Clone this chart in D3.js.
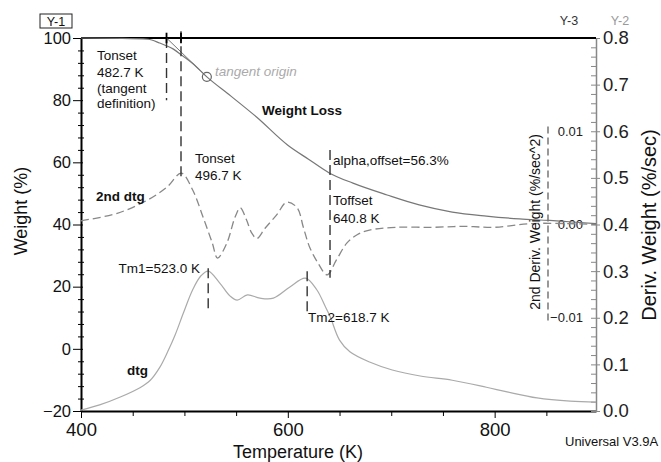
<!DOCTYPE html>
<html>
<head>
<meta charset="utf-8">
<script src="https://cdn.jsdelivr.net/npm/d3@7"></script>
<style>
  body { margin: 0; background: #fff; }
  svg { display: block; font-family: "Liberation Sans", Arial, sans-serif; }
</style>
</head>
<body>
<svg id="tga" width="661" height="462"></svg>
<script>
// Weight loss (Y-1, %)
const weightTemp = [400, 440, 465, 476, 489, 498.5, 508, 521.7, 545, 570, 600, 620, 640, 663, 696, 727, 759, 792, 824, 853, 875, 898];
const weightPct  = [100, 99.9, 99.6, 98.4, 96.5, 94.2, 91.8, 87.5, 81.3, 74.5, 65.5, 61.0, 56.6, 53.3, 49.5, 46.3, 44.0, 42.7, 41.8, 41.3, 40.8, 40.3];

// dtg (Y-2, %/sec)
const dtgTemp = [400, 418, 438, 457, 467, 476, 484, 491, 499, 508, 516, 523, 534, 544, 551, 561, 573, 586, 602, 617, 628, 636, 641, 650, 660, 679, 701, 728, 759, 792, 812, 841, 873, 898];
const dtgVal  = [0.002, 0.013, 0.030, 0.050, 0.066, 0.093, 0.128, 0.163, 0.210, 0.260, 0.290, 0.300, 0.275, 0.247, 0.238, 0.249, 0.242, 0.242, 0.266, 0.285, 0.260, 0.225, 0.202, 0.152, 0.127, 0.105, 0.088, 0.075, 0.066, 0.051, 0.041, 0.028, 0.021, 0.019];

// 2nd dtg (Y-3, %/sec^2)
const dtg2Temp = [400, 435, 464, 483, 497, 508, 518, 527, 532, 541, 549, 554, 560, 565, 570, 578, 589, 599, 609, 615, 621, 629, 638, 647, 657, 667, 679, 705, 740, 770, 800, 835, 870, 898];
const dtg2Val  = [0.0004, 0.0012, 0.0026, 0.0040, 0.0055, 0.0037, 0.0008, -0.0020, -0.0036, -0.0020, 0.0008, 0.0018, 0.0005, -0.0009, -0.0015, -0.0004, 0.0010, 0.0024, 0.0018, -0.0003, -0.0024, -0.0041, -0.0054, -0.0038, -0.0020, -0.0011, -0.0006, -0.0003, -0.0003, -0.0002, -0.0003, 0.0001, 0.0001, 0.0000];

// tick labels
const tempTicks   = [400, 600, 800];
const weightTicks = [-20, 0, 20, 40, 60, 80, 100];
const derivTicks  = [0, 0.1, 0.2, 0.3, 0.4, 0.5, 0.6, 0.7, 0.8];
const deriv2Ticks = [-0.01, 0, 0.01];

// annotated temperatures
const onsetTangent = 482.7, onsetDtg = 496.7, offsetTemp = 640.8, tm1 = 523.0, tm2 = 618.7;
const tangentOrigin = [521.7, 87.5];

let svg = d3.select("#tga");

// scales
let x  = d3.scaleLinear().domain([400, 898]).range([81, 596]);
let yW = d3.scaleLinear().domain([-20, 100]).range([411, 38]);
let y2 = d3.scaleLinear().domain([0, 0.8]).range([411, 38]);
let y3 = d3.scaleLinear().domain([-0.02, 0.02]).range([411, 38]);

// ---- axes ----
// left, Y-1
let gL = svg.append("g").attr("transform", `translate(${x(400)},0)`);
gL.call(d3.axisLeft(yW).tickValues(d3.range(-20, 101, 4).filter(d => d % 20 != 0)).tickSize(3).tickSizeOuter(0).tickFormat(""));
gL.selectAll(".tick line").attr("x1", 3);
gL.call(g => g.select(".domain").remove());
let gL2 = svg.append("g").attr("transform", `translate(${x(400)},0)`)
  .call(d3.axisLeft(yW).tickValues(weightTicks).tickSize(8).tickSizeOuter(0).tickPadding(2));
gL2.selectAll(".tick line").attr("x1", 2);
gL2.select(".domain").attr("stroke-width", 2);
gL2.selectAll("text").attr("font-size", 16.5).attr("fill", "#111").attr("font-family", "Liberation Sans, Arial");

// bottom
let gB = svg.append("g").attr("transform", `translate(0,${yW(-20)})`);
gB.call(d3.axisBottom(x).tickValues(d3.range(450, 900, 50).filter(d => d % 200 != 0)).tickSize(5).tickSizeOuter(0).tickFormat(""));
gB.call(g => g.select(".domain").remove());
let gB2 = svg.append("g").attr("transform", `translate(0,${yW(-20)})`)
  .call(d3.axisBottom(x).tickValues(tempTicks).tickSize(7).tickSizeOuter(0).tickPadding(5));
gB2.select(".domain").attr("stroke-width", 2);
gB2.selectAll("text").attr("font-size", 18.5).attr("fill", "#111").attr("font-family", "Liberation Sans, Arial");

// right, Y-2
let gR = svg.append("g").attr("transform", `translate(${x(898)},0)`).attr("color", "#888");
gR.call(d3.axisRight(y2).tickValues(d3.range(0, 0.801, 0.02).filter(d => Math.abs(d * 10 - Math.round(d * 10)) > 0.01)).tickSize(0).tickFormat(""));
gR.selectAll(".tick line").attr("x1", -5);
let gR2 = svg.append("g").attr("transform", `translate(${x(898)},0)`).attr("color", "#888")
  .call(d3.axisRight(y2).tickValues(derivTicks).tickSize(4).tickSizeOuter(0).tickPadding(3).tickFormat(d3.format(".1f")));
gR2.selectAll(".tick line").attr("x1", -5);
gR2.select(".domain").attr("stroke-width", 1.5);
gR2.selectAll("text").attr("font-size", 18.5).attr("fill", "#222").attr("font-family", "Liberation Sans, Arial");

// top frame line at 100 %
svg.append("line")
  .attr("x1", x(400)).attr("x2", x(898))
  .attr("y1", yW(100)).attr("y2", yW(100))
  .attr("stroke", "#000").attr("stroke-width", 2);

// Y-3 axis (dashed, inside the plot)
let y3x = 548;
svg.append("line")
  .attr("x1", y3x).attr("x2", y3x)
  .attr("y1", y3(0.0105)).attr("y2", y3(-0.0103))
  .attr("stroke", "#555").attr("stroke-width", 1.2).attr("stroke-dasharray", "7,4");
svg.selectAll(".y3lab")
  .data(deriv2Ticks)
  .enter().append("text")
    .attr("class", "y3lab")
    .attr("x", 583)
    .attr("y", d => y3(d))
    .attr("dy", "0.35em")
    .attr("text-anchor", "end")
    .attr("font-size", 13)
    .attr("fill", "#222")
    .text(d3.format(".2f"));

// ---- curves ----
let lineW = d3.line().x(d => x(d[0])).y(d => yW(d[1])).curve(d3.curveMonotoneX);
let line2 = d3.line().x(d => x(d[0])).y(d => y2(d[1])).curve(d3.curveCatmullRom.alpha(0.5));
let line3 = d3.line().x(d => x(d[0])).y(d => y3(d[1])).curve(d3.curveCatmullRom.alpha(0.5));

svg.append("path")
  .datum(d3.zip(dtg2Temp, dtg2Val))
  .attr("d", line3)
  .attr("fill", "none").attr("stroke", "#888").attr("stroke-width", 1.3)
  .attr("stroke-dasharray", "8,4");

svg.append("path")
  .datum(d3.zip(dtgTemp, dtgVal))
  .attr("d", line2)
  .attr("fill", "none").attr("stroke", "#aaa").attr("stroke-width", 1.2);

svg.append("path")
  .datum(d3.zip(weightTemp, weightPct))
  .attr("d", lineW)
  .attr("fill", "none").attr("stroke", "#777").attr("stroke-width", 1.2);

// tangent line and its origin
svg.append("line")
  .attr("x1", x(onsetTangent)).attr("y1", yW(100))
  .attr("x2", x(tangentOrigin[0])).attr("y2", yW(tangentOrigin[1]))
  .attr("stroke", "#777").attr("stroke-width", 1);
svg.append("circle")
  .attr("cx", x(tangentOrigin[0])).attr("cy", yW(tangentOrigin[1])).attr("r", 4.5)
  .attr("fill", "none").attr("stroke", "#666").attr("stroke-width", 1.2);

// ---- markers ----
function dashV(t, ya, yb) {
  svg.append("line")
    .attr("x1", x(t)).attr("x2", x(t)).attr("y1", ya).attr("y2", yb)
    .attr("stroke", "#333").attr("stroke-width", 1.4).attr("stroke-dasharray", "10,5");
}
dashV(onsetTangent, yW(100), yW(80));
dashV(onsetDtg, yW(102.2), y3(0.0051));
dashV(offsetTemp, yW(64), y3(-0.0057));
dashV(tm1, y2(0.306), y2(0.21));
dashV(tm2, y2(0.30), y2(0.205));

[onsetTangent, onsetDtg].forEach(function(t) {
  svg.append("line")
    .attr("x1", x(t)).attr("x2", x(t)).attr("y1", yW(101.7)).attr("y2", yW(98.3))
    .attr("stroke", "#000").attr("stroke-width", 1.8);
});

// ---- texts ----
function label(px, py, str, opt) {
  opt = opt || {};
  return svg.append("text")
    .attr("x", px).attr("y", py)
    .attr("font-size", opt.size || 13.5)
    .attr("font-weight", opt.bold ? "bold" : null)
    .attr("font-style", opt.italic ? "italic" : null)
    .attr("fill", opt.fill || "#111")
    .attr("text-anchor", opt.anchor || "start")
    .text(str);
}

label(97, 60, "Tonset");
label(97, 77, onsetTangent.toFixed(1) + " K");
label(97, 93, "(tangent");
label(97, 108, "definition)");
label(215, 76, "tangent origin", {italic: true, fill: "#aaa"});
label(262, 115, "Weight Loss", {bold: true});
label(195, 163, "Tonset");
label(195, 180, onsetDtg.toFixed(1) + " K");
label(96, 201, "2nd dtg", {bold: true});
label(333, 165, "alpha,offset=56.3%");
label(333, 205, "Toffset");
label(333, 223, offsetTemp.toFixed(1) + " K");
label(200, 273, "Tm1=" + tm1.toFixed(1) + " K", {anchor: "end"});
label(308, 322, "Tm2=" + tm2.toFixed(1) + " K");
label(127, 375, "dtg", {bold: true});

// axis titles
label(298, 458, "Temperature (K)", {size: 18, anchor: "middle"});
svg.append("text")
  .attr("transform", "translate(27,211) rotate(-90)")
  .attr("text-anchor", "middle").attr("font-size", 18).attr("fill", "#111")
  .text("Weight (%)");
svg.append("text")
  .attr("transform", "translate(656,225) rotate(-90)")
  .attr("text-anchor", "middle").attr("font-size", 20).attr("fill", "#111")
  .text("Deriv. Weight (%/sec)");
svg.append("text")
  .attr("transform", "translate(540,222) rotate(-90)")
  .attr("text-anchor", "middle").attr("font-size", 14).attr("fill", "#111")
  .text("2nd Deriv. Weight (%/sec^2)");

// axis tags
svg.append("rect")
  .attr("x", 40).attr("y", 14).attr("width", 32).attr("height", 14)
  .attr("fill", "none").attr("stroke", "#222").attr("stroke-width", 1);
label(56, 26, "Y-1", {size: 12.5, anchor: "middle"});
label(569, 25, "Y-3", {size: 12.5, anchor: "middle", fill: "#333"});
label(620, 25, "Y-2", {size: 12.5, anchor: "middle", fill: "#999"});
label(565, 446, "Universal V3.9A", {size: 13});
</script>
</body>
</html>
